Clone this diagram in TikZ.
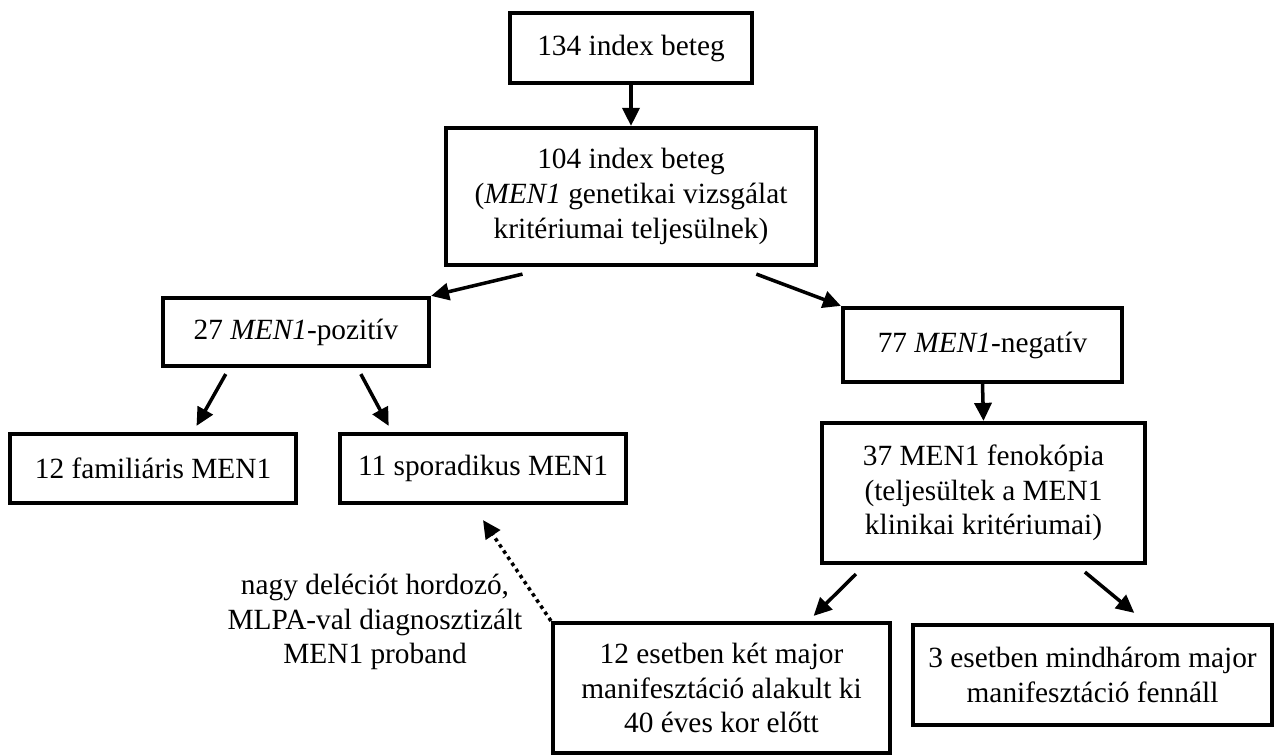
\documentclass[tikz,border=0pt]{standalone}
\usepackage{fontspec}
\setmainfont{Liberation Serif}
\usepackage{tikz}
\usetikzlibrary{arrows.meta,calc}

\tikzset{
  box/.style={draw, line width=2.4pt, inner sep=0pt, align=center},
  arr/.style={-{Triangle[length=0.36cm,width=0.34cm]}, line width=2pt},
  dotarr/.style={arr, dash pattern=on 2pt off 2.2pt}
}

\begin{document}
\begin{tikzpicture}[x=0.02cm, y=-0.02cm, every node/.style={font=\fontsize{16.7}{19.8}\selectfont}]
\useasboundingbox (0,0) rectangle (1275,756);
% ---- top: index patients
\node[box, minimum width=4.84cm, minimum height=1.4cm] (idx134) at (631,48) {134 index beteg};
\node[box, minimum width=7.4cm, minimum height=2.74cm] (idx104) at (631,196.5)
  {104 index beteg\\(\textit{MEN1} genetikai vizsgálat\\kritériumai teljesülnek)};
% ---- genetic result
\node[box, minimum width=5.32cm, minimum height=1.36cm] (pos) at (296,332) {27 \textit{MEN1}-pozitív};
\node[box, minimum width=5.58cm, minimum height=1.48cm] (neg) at (982.5,345) {77 \textit{MEN1}-negatív};
% ---- positive branch
\node[box, minimum width=5.72cm, minimum height=1.38cm] (fam) at (153,468.5) {12 familiáris MEN1};
\node[box, minimum width=5.72cm, minimum height=1.38cm] (spor) at (483,468.5) {11 sporadikus MEN1};
% ---- negative branch
\node[box, minimum width=6.46cm, minimum height=2.8cm] (pheno) at (983.5,493)
  {37 MEN1 fenokópia\\(teljesültek a MEN1\\klinikai kritériumai)};
\node[box, minimum width=6.74cm, minimum height=2.6cm] (two) at (721.5,688)
  {12 esetben két major\\manifesztáció alakult ki\\40 éves kor előtt};
\node[box, minimum width=7.18cm, minimum height=2cm] (three) at (1092.5,675)
  {3 esetben mindhárom major\\manifesztáció fennáll};
\node[align=center] (mlpa) at (375,622) {nagy deléciót hordozó,\\MLPA-val diagnosztizált\\MEN1 proband};
% ---- arrows
\draw[arr] (idx134.south) -- (idx104.north);
\draw[arr] ($(idx104.south west)!0.21!(idx104.south east)+(0,7)$) -- (pos.north east);
\draw[arr] ($(idx104.south west)!0.835!(idx104.south east)+(0,7)$) -- (neg.north west);
\draw[arr] ($(pos.south west)!0.24!(pos.south east)+(0,6)$) -- ($(fam.north west)!0.65!(fam.north east)+(0,-6)$);
\draw[arr] ($(pos.south west)!0.74!(pos.south east)+(0,6)$) -- ($(spor.north west)!0.175!(spor.north east)+(0,-6)$);
\draw[arr] (neg.south) -- (pheno.north);
\draw[arr] ($(pheno.south west)!0.11!(pheno.south east)+(0,9)$) -- ($(two.north west)!0.77!(two.north east)+(0,-5)$);
\draw[arr] ($(pheno.south west)!0.81!(pheno.south east)+(0,7)$) -- ($(three.north west)!0.615!(three.north east)+(0,-10)$);
\draw[dotarr] (two.north west) -- ($(spor.south)+(0,15)$);
\end{tikzpicture}
\end{document}
